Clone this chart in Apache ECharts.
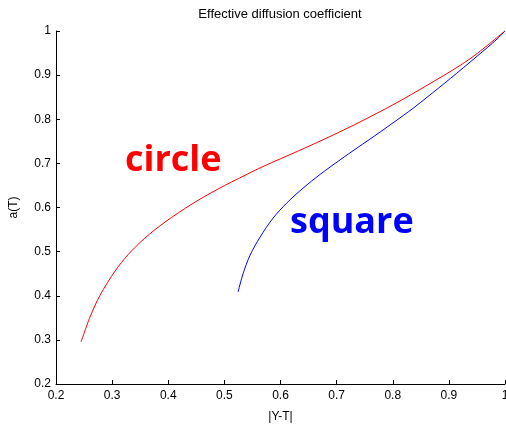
<!DOCTYPE html>
<html>
<head>
<meta charset="utf-8">
<script src="https://cdn.jsdelivr.net/npm/echarts@6/dist/echarts.min.js"></script>
<style>
  html, body { margin: 0; padding: 0; background: #fff; }
  #chart { width: 506px; height: 425px; }
</style>
</head>
<body>
<div id="chart"></div>
<script>
// Effective diffusion coefficient a(T) against |Y-T| for two shapes
const circleX = [0.2446, 0.2606, 0.2784, 0.3052, 0.3283, 0.3586, 0.3943, 0.4424, 0.4888, 0.5369, 0.5690, 0.6296, 0.6884, 0.7419, 0.8007, 0.8613, 0.9201, 0.9504, 1.0];
const circleY = [0.2952, 0.3519, 0.4010, 0.4560, 0.4930, 0.5310, 0.5670, 0.6080, 0.6420, 0.6730, 0.6930, 0.7270, 0.7610, 0.7940, 0.8330, 0.8770, 0.9220, 0.9490, 1.0];
const squareX = [0.5244, 0.5333, 0.5458, 0.5636, 0.5868, 0.6118, 0.6403, 0.6706, 0.7062, 0.7365, 0.7561, 0.8007, 0.8364, 0.8613, 0.9023, 0.9504, 0.9861, 1.0];
const squareY = [0.4086, 0.4500, 0.4920, 0.5330, 0.5760, 0.6110, 0.6440, 0.6750, 0.7080, 0.7350, 0.7520, 0.7920, 0.8250, 0.8500, 0.8920, 0.9430, 0.9820, 1.0];

const titleText = 'Effective diffusion coefficient';
const xName = '|Y-T|';
const yName = 'a(T)';

const pair = (xs, ys) => xs.map((x, i) => [x, ys[i]]);
const font = 'Liberation Sans, Arial, sans-serif';

const chart = echarts.init(document.getElementById('chart'));
chart.setOption({
  animation: false,
  backgroundColor: '#ffffff',
  grid: { left: 56, right: 1, top: 31, bottom: 41, outerBoundsMode: 'none', containLabel: false },
  xAxis: {
    type: 'value', min: 0.2, max: 1, interval: 0.1,
    name: xName, nameLocation: 'middle', nameGap: 27,
    nameTextStyle: { color: '#000', fontSize: 12, fontFamily: font },
    axisLine: { show: true, lineStyle: { color: '#000', width: 1 } },
    axisTick: { show: true, inside: true, length: 4, lineStyle: { color: '#000' } },
    axisLabel: { color: '#000', fontSize: 12, fontFamily: font, margin: 6, hideOverlap: false,
      formatter: v => (Math.round(v * 10) / 10).toString() },
    splitLine: { show: false }
  },
  yAxis: {
    type: 'value', min: 0.2, max: 1, interval: 0.1,
    name: yName, nameLocation: 'middle', nameGap: 36, nameRotate: 90,
    nameTextStyle: { color: '#000', fontSize: 12, fontFamily: font },
    axisLine: { show: true, lineStyle: { color: '#000', width: 1 } },
    axisTick: { show: true, inside: true, length: 4, lineStyle: { color: '#000' } },
    axisLabel: { color: '#000', fontSize: 12, fontFamily: font, margin: 5, hideOverlap: false,
      formatter: v => (Math.round(v * 10) / 10).toString() },
    splitLine: { show: false }
  },
  series: [
    { type: 'line', data: pair(circleX, circleY), showSymbol: false, smooth: 0.3,
      lineStyle: { color: '#ff0000', width: 1 }, itemStyle: { color: '#ff0000' } },
    { type: 'line', data: pair(squareX, squareY), showSymbol: false, smooth: 0.3,
      lineStyle: { color: '#0000ff', width: 1 }, itemStyle: { color: '#0000ff' } }
  ],
  graphic: [
    { type: 'text', x: 280, y: 14, style: { text: titleText, fill: '#000', font: '13px ' + font,
      textAlign: 'center', textVerticalAlign: 'middle' } },
    { type: 'text', x: 125, y: 179, style: { text: 'circle', fill: '#ff0000',
      font: 'bold 36px "Open Sans", sans-serif', textAlign: 'left', textVerticalAlign: 'bottom' } },
    { type: 'text', x: 290, y: 241, style: { text: 'square', fill: '#0000ff',
      font: 'bold 36px "Open Sans", sans-serif', textAlign: 'left', textVerticalAlign: 'bottom' } }
  ]
});
</script>
</body>
</html>
